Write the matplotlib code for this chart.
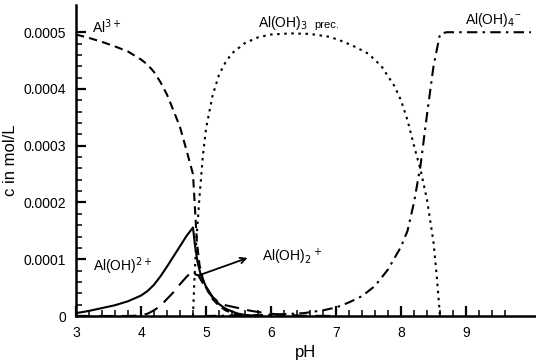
import matplotlib
matplotlib.use("Agg")
import matplotlib.pyplot as plt
import numpy as np
from matplotlib.ticker import FixedLocator, FuncFormatter

plt.rcParams['font.family'] = ['Liberation Sans', 'DejaVu Sans']

# Al3+ (dashed)
ph_al3 = [3.0, 3.2, 3.4, 3.6, 3.8, 4.0, 4.1, 4.2, 4.3, 4.4, 4.5, 4.6, 4.7, 4.8,
          4.83, 4.86, 4.9, 4.95, 5.0, 5.1, 5.2, 5.3, 5.4, 5.5, 5.6]
c_al3 = [0.000496, 0.000490, 0.000483, 0.000475, 0.000466, 0.000452, 0.000443,
         0.000430, 0.000412, 0.000390, 0.000362, 0.000333, 0.000292, 0.000250,
         0.000190, 0.000130, 0.000090, 0.000066, 0.000050, 0.000030, 0.000018,
         0.000010, 0.000005, 0.000002, 0.0]

# Al(OH)2+ (solid)
ph_aloh = [3.0, 3.2, 3.4, 3.6, 3.8, 4.0, 4.1, 4.2, 4.3, 4.4, 4.5, 4.6, 4.7, 4.8,
           4.83, 4.87, 4.92, 5.0, 5.1, 5.2, 5.3, 5.4, 5.5, 5.6, 5.8]
c_aloh = [0.000005, 0.000009, 0.000014, 0.000019, 0.000026, 0.000036, 0.000044,
          0.000055, 0.000070, 0.000087, 0.000105, 0.000123, 0.000141, 0.000156,
          0.000125, 0.000095, 0.000072, 0.000052, 0.000034, 0.000021, 0.000013,
          0.000008, 0.000004, 0.000002, 0.0]

# Al(OH)2+ (long dashes)
ph_aloh2 = [3.0, 3.8, 4.0, 4.1, 4.2, 4.3, 4.4, 4.5, 4.6, 4.7, 4.8, 4.84, 4.88,
            4.95, 5.0, 5.1, 5.2, 5.3, 5.5, 5.6, 5.8, 6.0, 6.2, 6.5, 7.0]
c_aloh2 = [0.0, 0.0, 0.000001, 0.000004, 0.000010, 0.000018, 0.000030, 0.000042,
           0.000056, 0.000069, 0.000080, 0.000073, 0.000072, 0.000058, 0.000048,
           0.000033, 0.000024, 0.000019, 0.000014, 0.000011, 0.000007, 0.000004,
           0.000002, 0.0000005, 0.0]

# Al(OH)3 precipitate (dotted)
ph_prec = [4.8, 4.82, 4.85, 4.9, 4.95, 5.0, 5.1, 5.2, 5.3, 5.4, 5.6, 5.8, 6.0,
           6.3, 6.6, 6.9, 7.1, 7.3, 7.5, 7.7, 7.9, 8.0, 8.1, 8.2, 8.3, 8.4,
           8.5, 8.55, 8.6]
c_prec = [0.0, 0.00006, 0.00013, 0.00021, 0.00028, 0.00033, 0.000388, 0.000425,
          0.000447, 0.000463, 0.000481, 0.000491, 0.000496, 0.000498, 0.000497,
          0.000492, 0.000484, 0.000474, 0.000462, 0.000440, 0.000405, 0.000380,
          0.000345, 0.000300, 0.000258, 0.000205, 0.000130, 0.00007, 0.0]

# Al(OH)4- (dash-dot)
ph_al4 = [5.0, 5.5, 6.0, 6.5, 6.8, 7.0, 7.2, 7.4, 7.6, 7.8, 8.0, 8.1, 8.2, 8.3,
          8.4, 8.5, 8.6, 8.7, 10.0]
c_al4 = [0.0, 0.000001, 0.000002, 0.000005, 0.000010, 0.000015, 0.000024,
         0.000035, 0.000053, 0.000082, 0.000122, 0.000150, 0.000200, 0.000265,
         0.000355, 0.000440, 0.000497, 0.0005, 0.0005]

fig = plt.figure(figsize=(5.36, 3.6), dpi=100)
ax = fig.add_axes([76/536, 44/360, 460/536, 311/360])

lw = 1.5
ax.plot(ph_al3, c_al3, color='black', lw=lw, dashes=(4, 2.5))
ax.plot(ph_aloh, c_aloh, color='black', lw=lw)
ax.plot(ph_aloh2, c_aloh2, color='black', lw=lw, dashes=(7, 4))
ax.plot(ph_prec, c_prec, color='black', lw=lw, dashes=(1.2, 2.2))
ax.plot(ph_al4, c_al4, color='black', lw=lw, dashes=(5, 2.5, 1.2, 2.5))

ax.set_xlim(3, 3 + 460/65)
ax.set_ylim(0, 0.000548)

ax.xaxis.set_major_locator(FixedLocator([3, 4, 5, 6, 7, 8, 9]))
ax.xaxis.set_minor_locator(FixedLocator(np.arange(3.2, 9.7, 0.2)))
ax.yaxis.set_major_locator(FixedLocator([0, 0.0001, 0.0002, 0.0003, 0.0004, 0.0005]))
ax.yaxis.set_minor_locator(FixedLocator(np.arange(0.00002, 0.000481, 0.00002)))
ax.yaxis.set_major_formatter(FuncFormatter(lambda v, p: '0' if v == 0 else f'{v:.4f}'))

for s in ['top', 'right']:
    ax.spines[s].set_visible(False)
for s in ['left', 'bottom']:
    ax.spines[s].set_linewidth(1.8)
ax.tick_params(which='major', direction='in', length=7, width=1.6, labelsize=10, pad=7)
ax.tick_params(which='minor', direction='in', length=4, width=1.1)

ax.set_xlabel('pH', fontsize=12, labelpad=4)
ax.set_ylabel('c in mol/L', fontsize=12, labelpad=4)

ax.text(3.25, 0.000509, r'Al$^{3+}$', fontsize=10, va='center')
ax.text(3.26, 0.000088, r'Al(OH)$^{2+}$', fontsize=10, va='center')
ax.text(5.86, 0.000104, r'Al(OH)$_2$$^+$', fontsize=10, va='center')
ax.text(5.8, 0.000517, r'Al(OH)$_3$', fontsize=10, va='center')
ax.text(6.66, 0.000513, 'prec.', fontsize=8, va='center')
ax.text(8.98, 0.000521, r'Al(OH)$_4$$^{\mathregular{-}}$', fontsize=10, va='center')

ax.annotate('', xy=(5.68, 0.000104), xytext=(4.85, 0.00007),
            arrowprops=dict(arrowstyle='->', color='black', lw=1.3))

fig.savefig('out.png', dpi=100)
